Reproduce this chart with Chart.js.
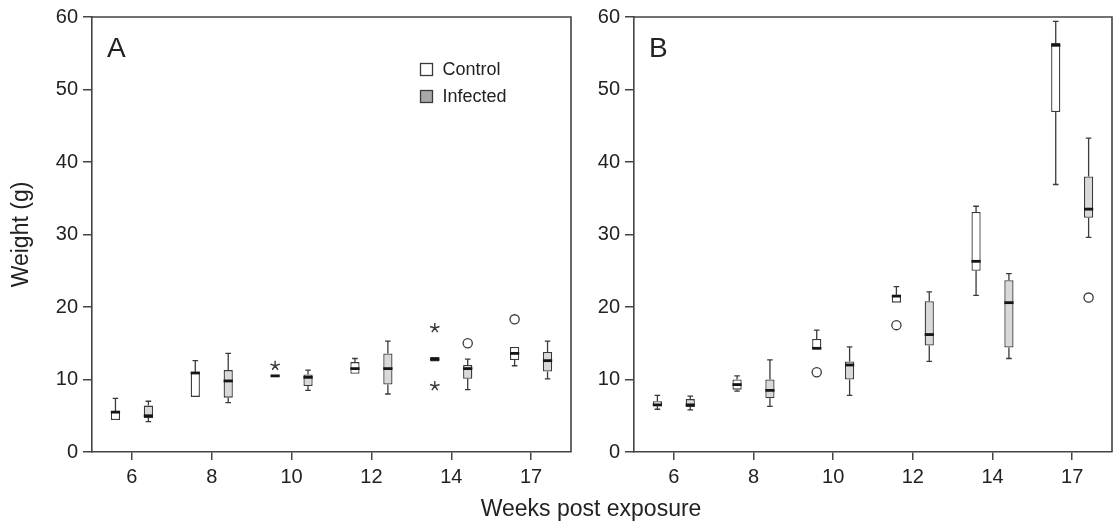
<!DOCTYPE html>
<html><head><meta charset="utf-8">
<script src="https://cdn.jsdelivr.net/npm/chart.js@4.4.0/dist/chart.umd.min.js"></script>
<style>
html,body{margin:0;padding:0;background:#fff;}
#wrap{position:relative;width:1115px;height:527px;overflow:hidden;}
#ca{position:absolute;left:0;top:0;}
#cb{position:absolute;left:580px;top:0;}
#xt{position:absolute;left:0;width:1182px;top:495px;text-align:center;font:23px "Liberation Sans",Arial,sans-serif;color:#222;line-height:26px;}
</style></head><body>
<div id="wrap">
<canvas id="ca" width="580" height="527"></canvas>
<canvas id="cb" width="535" height="527"></canvas>
<div id="xt">Weeks post exposure</div>
</div>
<script>
const weeks = ['6','8','10','12','14','17'];
const yTicks = [0,10,20,30,40,50,60];
const seriesNames = ['Control','Infected'];

// Panel A – Control
const aCtrlMin = [4.4, 7.6, 10.5, 10.8, 12.5, 11.9];
const aCtrlQ1  = [4.4, 7.6, 10.5, 10.8, 12.5, 12.7];
const aCtrlMed = [5.5, 10.9, 10.5, 11.5, 12.8, 13.6];
const aCtrlQ3  = [5.6, 11.0, 10.5, 12.4, 13.1, 14.5];
const aCtrlMax = [7.4, 12.6, 10.5, 12.9, 13.1, 14.5];
// Panel A – Infected
const aInfMin = [4.2, 6.8, 8.5, 8.0, 8.6, 10.1];
const aInfQ1  = [4.7, 7.5, 9.1, 9.3, 10.1, 11.1];
const aInfMed = [5.0, 9.8, 10.3, 11.5, 11.5, 12.6];
const aInfQ3  = [6.4, 11.3, 10.7, 13.6, 12.0, 13.8];
const aInfMax = [7.0, 13.6, 11.3, 15.3, 12.8, 15.3];
// Panel A outliers: [week index, series index, value, marker]
const aOutliers = [[2,0,11.9,'star'],[4,0,17.1,'star'],[4,0,9.1,'star'],[4,1,15.0,'circle'],[5,0,18.3,'circle']];

// Panel B – Control
const bCtrlMin = [5.9, 8.4, 14.2, 20.6, 21.6, 36.9];
const bCtrlQ1  = [6.3, 8.6, 14.2, 20.6, 25.0, 46.9];
const bCtrlMed = [6.5, 9.3, 14.3, 21.5, 26.3, 56.1];
const bCtrlQ3  = [7.0, 10.0, 15.6, 21.7, 33.1, 56.4];
const bCtrlMax = [7.8, 10.5, 16.8, 22.8, 33.9, 59.4];
// Panel B – Infected
const bInfMin = [5.8, 6.3, 7.8, 12.5, 12.9, 29.6];
const bInfQ1  = [6.2, 7.4, 10.0, 14.7, 14.4, 32.3];
const bInfMed = [6.5, 8.5, 12.0, 16.2, 20.6, 33.5];
const bInfQ3  = [7.3, 10.0, 12.5, 20.8, 23.7, 38.0];
const bInfMax = [7.7, 12.7, 14.5, 22.1, 24.6, 43.3];
const bOutliers = [[2,0,11.0,'circle'],[3,0,17.5,'circle'],[5,1,21.3,'circle']];

const FONT = '"Liberation Sans", Arial, Helvetica, sans-serif';
const INK = '#222';
const LINE = '#444';
const BOXLINE = '#3a3a3a';
const FILLS = ['#ffffff', '#d9d9d9'];
const LEGEND_FILLS = ['#ffffff', '#a8a8a8'];

const boxPlugin = {
  id: 'boxExtras',
  afterDatasetsDraw(chart, args, o) {
    const ctx = chart.ctx, ys = chart.scales.y;
    chart.data.datasets.forEach((ds, di) => {
      const meta = chart.getDatasetMeta(di);
      const s = ds.stats;
      meta.data.forEach((bar, i) => {
        const x = bar.x, w = bar.width;
        const pMin = ys.getPixelForValue(s.min[i]);
        const pQ1 = ys.getPixelForValue(s.q1[i]);
        const pQ3 = ys.getPixelForValue(s.q3[i]);
        const pMax = ys.getPixelForValue(s.max[i]);
        const pMed = ys.getPixelForValue(s.med[i]);
        ctx.save();
        ctx.strokeStyle = BOXLINE; ctx.lineWidth = 1.3;
        if (s.max[i] > s.q3[i]) {
          ctx.beginPath(); ctx.moveTo(x, pQ3); ctx.lineTo(x, pMax);
          ctx.moveTo(x - 2.8, pMax); ctx.lineTo(x + 2.8, pMax); ctx.stroke();
        }
        if (s.min[i] < s.q1[i]) {
          ctx.beginPath(); ctx.moveTo(x, pQ1); ctx.lineTo(x, pMin);
          ctx.moveTo(x - 2.8, pMin); ctx.lineTo(x + 2.8, pMin); ctx.stroke();
        }
        ctx.strokeStyle = '#151515'; ctx.lineWidth = 2.8;
        ctx.beginPath(); ctx.moveTo(x - w / 2, pMed); ctx.lineTo(x + w / 2, pMed); ctx.stroke();
        ctx.restore();
      });
    });
    (o.outliers || []).forEach(([ci, si, v, shape]) => {
      const bar = chart.getDatasetMeta(si).data[ci];
      const x = bar.x, y = ys.getPixelForValue(v);
      ctx.save();
      ctx.strokeStyle = BOXLINE; ctx.lineWidth = 1.3;
      if (shape === 'circle') {
        ctx.beginPath(); ctx.arc(x, y, 4.6, 0, Math.PI * 2); ctx.stroke();
      } else {
        ctx.lineWidth = 1.4;
        ctx.beginPath();
        for (let k = 0; k < 5; k++) {
          const a = -Math.PI / 2 + k * 2 * Math.PI / 5;
          ctx.moveTo(x, y); ctx.lineTo(x + 5 * Math.cos(a), y + 5 * Math.sin(a));
        }
        ctx.stroke();
      }
      ctx.restore();
    });
  },
  afterDraw(chart, args, o) {
    const ctx = chart.ctx, a = chart.chartArea;
    ctx.save();
    ctx.strokeStyle = LINE; ctx.lineWidth = 1.6;
    ctx.beginPath();
    ctx.moveTo(a.left, a.top); ctx.lineTo(a.right, a.top); ctx.lineTo(a.right, a.bottom);
    ctx.stroke();
    ctx.fillStyle = INK;
    ctx.font = '28px ' + FONT;
    ctx.textBaseline = 'alphabetic';
    ctx.fillText(o.letter, a.left + 15, a.top + 40);
    if (o.legend) {
      ctx.font = '18px ' + FONT;
      ctx.textBaseline = 'middle';
      seriesNames.forEach((n, k) => {
        const lx = a.left + 328.5, ly = a.top + 46.5 + k * 27;
        ctx.fillStyle = LEGEND_FILLS[k];
        ctx.fillRect(lx, ly, 12, 12);
        ctx.strokeStyle = BOXLINE; ctx.lineWidth = 1.3;
        ctx.strokeRect(lx, ly, 12, 12);
        ctx.fillStyle = INK;
        ctx.fillText(n, lx + 22, ly + 6.5);
      });
    }
    ctx.restore();
  }
};

function makeChart(el, ctrl, inf, outliers, letter, yWidth, padRight, showTitle, legend) {
  const mk = (name, st, k) => ({
    label: name,
    data: weeks.map((w, i) => [st.q1[i], st.q3[i]]),
    stats: st,
    backgroundColor: FILLS[k],
    borderColor: BOXLINE,
    borderWidth: 1.3,
    borderSkipped: false,
    categoryPercentage: 0.825,
    barPercentage: 0.28
  });
  return new Chart(el, {
    type: 'bar',
    data: { labels: weeks, datasets: [mk('Control', ctrl, 0), mk('Infected', inf, 1)] },
    options: {
      responsive: false,
      animation: false,
      devicePixelRatio: 1,
      layout: { padding: { top: 17, right: padRight, bottom: 0, left: 0 } },
      plugins: {
        legend: { display: false },
        tooltip: { enabled: false },
        boxExtras: { outliers, letter, legend }
      },
      scales: {
        x: {
          type: 'category',
          offset: true,
          grid: { display: true, offset: false, drawOnChartArea: false, drawTicks: true, tickLength: 8, tickColor: LINE, lineWidth: 1.5 },
          border: { display: true, color: LINE, width: 1.6 },
          ticks: { color: INK, font: { family: FONT, size: 20 }, padding: 5, maxRotation: 0, autoSkip: false },
          afterFit: s => { s.height = 75; }
        },
        y: {
          min: 0, max: 60,
          afterBuildTicks: s => { s.ticks = yTicks.map(v => ({ value: v })); },
          grid: { display: true, drawOnChartArea: false, drawTicks: true, tickLength: 9, tickColor: LINE, lineWidth: 1.5 },
          border: { display: true, color: LINE, width: 1.6 },
          ticks: { color: INK, font: { family: FONT, size: 20 }, padding: 5 },
          title: { display: showTitle, text: 'Weight (g)', color: INK, font: { family: FONT, size: 23 }, padding: { top: 8, bottom: 0 } },
          afterFit: s => { s.width = yWidth; }
        }
      }
    },
    plugins: [boxPlugin]
  });
}

makeChart(document.getElementById('ca'),
  { min: aCtrlMin, q1: aCtrlQ1, med: aCtrlMed, q3: aCtrlQ3, max: aCtrlMax },
  { min: aInfMin, q1: aInfQ1, med: aInfMed, q3: aInfQ3, max: aInfMax },
  aOutliers, 'A', 92, 9, true, true);
makeChart(document.getElementById('cb'),
  { min: bCtrlMin, q1: bCtrlQ1, med: bCtrlMed, q3: bCtrlQ3, max: bCtrlMax },
  { min: bInfMin, q1: bInfQ1, med: bInfMed, q3: bInfQ3, max: bInfMax },
  bOutliers, 'B', 54, 3, false, false);
</script>
</body></html>
